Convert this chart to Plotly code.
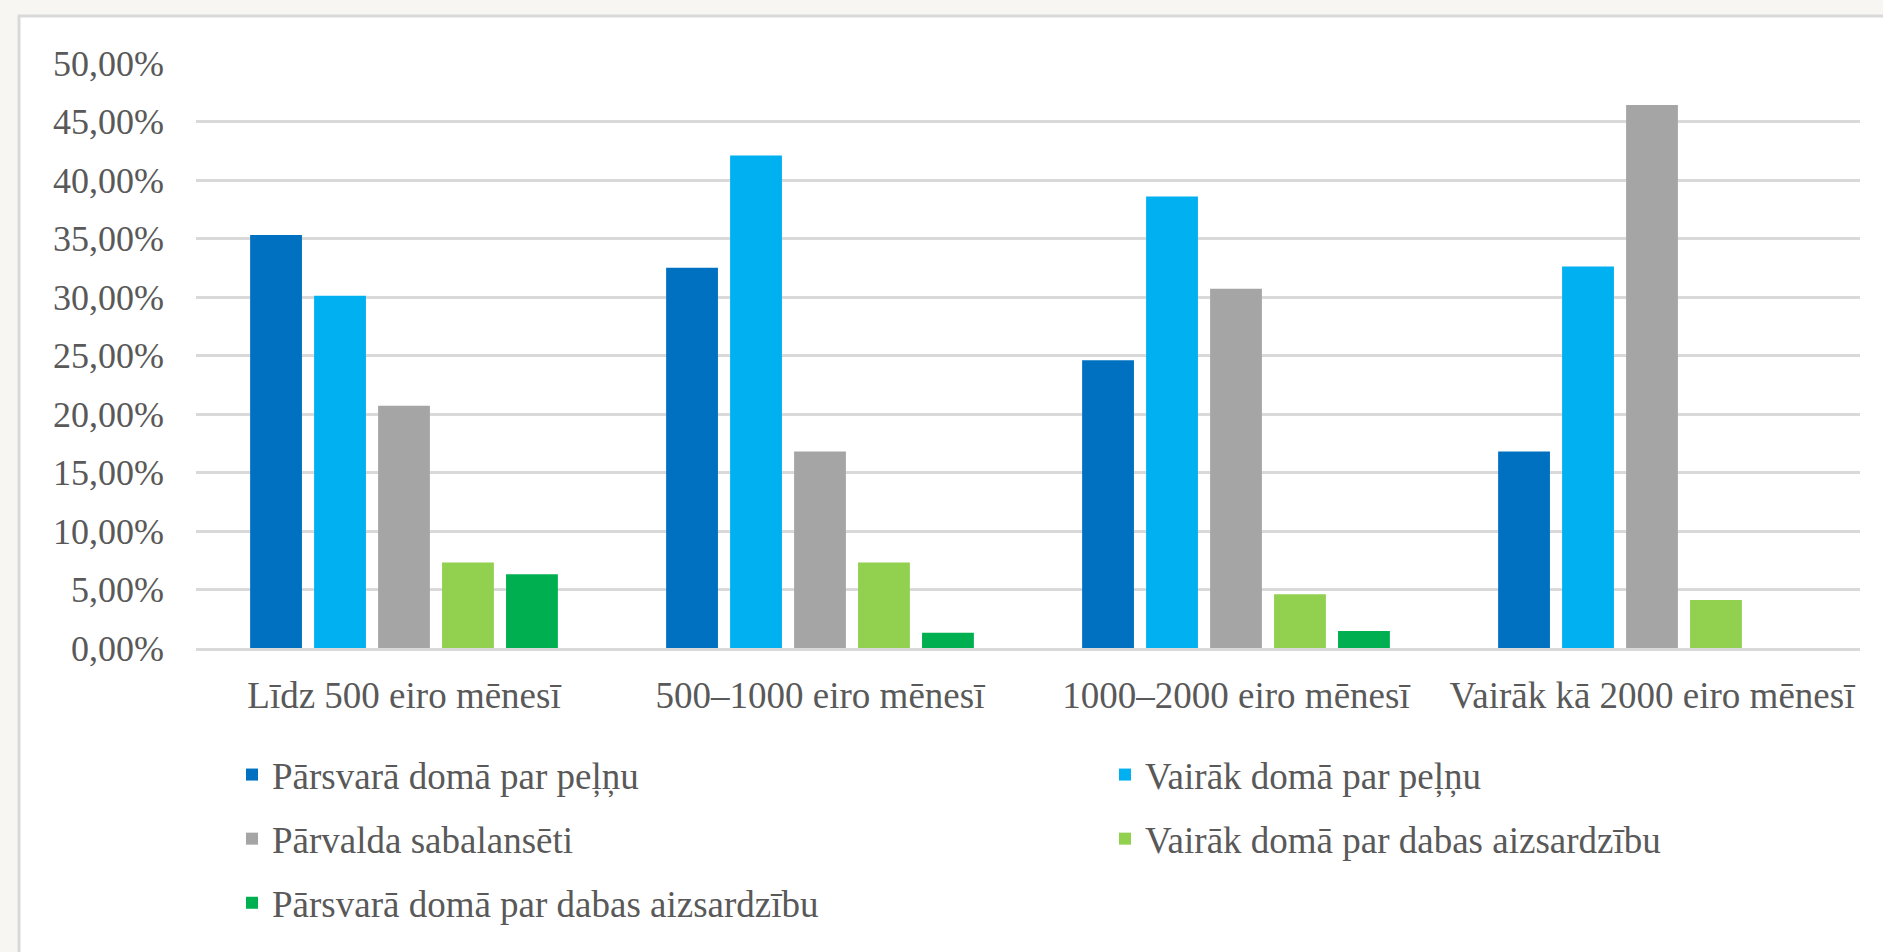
import plotly.graph_objects as go

categories = ["Līdz 500 eiro mēnesī", "500–1000 eiro mēnesī", "1000–2000 eiro mēnesī", "Vairāk kā 2000 eiro mēnesī"]
series_names = [
    "Pārsvarā domā par peļņu",
    "Vairāk domā par peļņu",
    "Pārvalda sabalansēti",
    "Vairāk domā par dabas aizsardzību",
    "Pārsvarā domā par dabas aizsardzību",
]
parsvara_pelna = [35.3, 32.5, 24.6, 16.8]
vairak_pelna = [30.1, 42.1, 38.6, 32.6]
sabalanseti = [20.7, 16.8, 30.7, 46.4]
vairak_daba = [7.3, 7.3, 4.6, 4.1]
parsvara_daba = [6.3, 1.3, 1.45, None]
y_ticks = [0, 5, 10, 15, 20, 25, 30, 35, 40, 45, 50]

series_values = [parsvara_pelna, vairak_pelna, sabalanseti, vairak_daba, parsvara_daba]
colors = ["#0070C0", "#00B0F0", "#A5A5A5", "#92D050", "#00B050"]
legend_ids = ["legend", "legend2", "legend", "legend2", "legend"]

TEXT = "#595959"
FONT = "Liberation Serif, Times New Roman, DejaVu Serif, serif"

fig = go.Figure()
for i, (name, vals) in enumerate(zip(series_names, series_values)):
    fig.add_trace(go.Bar(
        x=categories,
        y=[v / 100 if v is not None else None for v in vals],
        name=name,
        marker=dict(color=colors[i], line=dict(width=0)),
        legend=legend_ids[i],
        legendgroup="g%d" % i,
    ))

W, H = 1883, 952
L, R, T, B = 196, 23, 63, 304
pw = W - L - R
ph = H - T - B

def px_x(p):
    return (p - L) / pw

def px_y(p):
    return (H - B - p) / ph

legend_common = dict(
    font=dict(family=FONT, size=37, color=TEXT),
    bgcolor="rgba(0,0,0,0)",
    orientation="v",
    yanchor="top",
    xanchor="left",
    tracegroupgap=13,
    itemclick=False,
)

fig.update_layout(
    width=W,
    height=H,
    margin=dict(l=L, r=R, t=T, b=B, pad=0),
    paper_bgcolor="#F7F6F3",
    plot_bgcolor="rgba(0,0,0,0)",
    barmode="group",
    bargap=0.231,
    bargroupgap=0.19,
    separators=", ",
    font=dict(family=FONT, color=TEXT),
    showlegend=True,
    legend=dict(x=px_x(232), y=px_y(744), **legend_common),
    legend2=dict(x=px_x(1105), y=px_y(744), **legend_common),
    shapes=[
        dict(
            type="rect", xref="paper", yref="paper",
            x0=px_x(19), x1=px_x(W + 20), y0=px_y(H + 20), y1=px_y(16),
            fillcolor="#FFFFFF", line=dict(color="#D9D9D9", width=3), layer="below",
        )
    ],
    xaxis=dict(
        showgrid=False,
        showline=True,
        linecolor="#D9D9D9",
        linewidth=3,
        ticks="",
        tickfont=dict(family=FONT, size=37, color=TEXT),
        ticklabelstandoff=13,
        fixedrange=True,
    ),
    yaxis=dict(
        range=[0, 0.5],
        tickvals=[v / 100 for v in y_ticks],
        tickformat=".2%",
        showgrid=True,
        gridcolor="#D9D9D9",
        gridwidth=2.5,
        zeroline=False,
        showline=False,
        ticks="",
        tickfont=dict(family=FONT, size=36, color=TEXT),
        ticklabelstandoff=31,
        fixedrange=True,
    ),
)

fig.write_html(
    "out.html",
    config={"displayModeBar": False},
    post_script="document.body.style.margin='0';document.body.style.overflow='hidden';document.body.style.background='#F7F6F3';",
)
